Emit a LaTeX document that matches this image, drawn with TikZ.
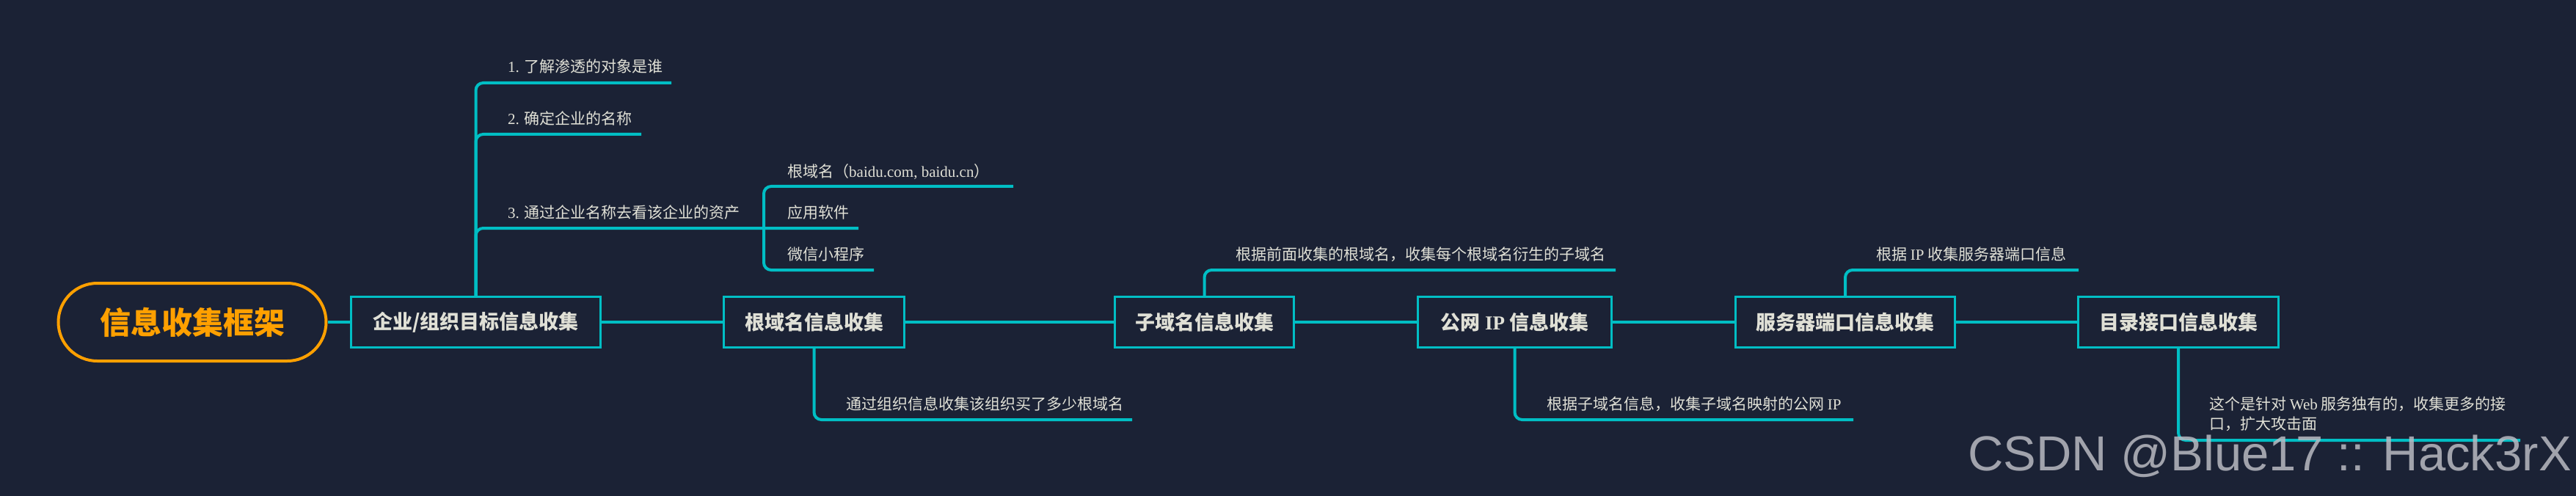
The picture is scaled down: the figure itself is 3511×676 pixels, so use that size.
\documentclass[tikz,border=0pt]{standalone}
\usepackage{fontspec}
\setmainfont{Liberation Serif}
\newfontfamily\cjk{Noto Sans CJK SC}
\newfontfamily\lat{Liberation Serif}
\newfontfamily\wmfont{Liberation Sans}
\definecolor{bgc}{RGB}{27,34,53}
\definecolor{mmteal}{RGB}{0,190,196}
\definecolor{txtc}{RGB}{224,224,214}
\definecolor{orgc}{RGB}{255,160,0}
\definecolor{wmc}{RGB}{185,186,194}
\begin{document}
\begin{tikzpicture}[x=1pt,y=-1pt,
  conn/.style={draw=mmteal, line width=4pt},
  br/.style={conn, rounded corners=10pt},
  rootbox/.style={draw=orgc, line width=4pt, fill=bgc, rounded corners=53pt, minimum width=365pt, minimum height=106pt, inner sep=0pt, text=orgc, font=\cjk\bfseries\fontsize{42}{50}\selectfont},
  box/.style={draw=mmteal, line width=3pt, fill=bgc, minimum height=69pt, inner sep=0pt, text=txtc, font=\cjk\bfseries\fontsize{27}{32}\selectfont},
  lbl/.style={anchor=base west, inner sep=0pt, text=txtc, font=\cjk\fontsize{21}{27}\selectfont},
]
\fill[bgc] (0,0) rectangle (3511,676);
\useasboundingbox (0,0) rectangle (3511,676);

% main nodes
\node[rootbox] (root) at (262,439) {信息收集框架};
\node[box, minimum width=340pt] (b1) at (648.5,439) {企业/组织目标信息收集};
\node[box, minimum width=246pt] (b2) at (1109.5,439) {根域名信息收集};
\node[box, minimum width=244pt] (b3) at (1641.5,439) {子域名信息收集};
\node[box, minimum width=264pt] (b4) at (2064.5,439) {公网 {\lat\bfseries IP} 信息收集};
\node[box, minimum width=299pt] (b5) at (2515,439) {服务器端口信息收集};
\node[box, minimum width=273pt] (b6) at (2969,439) {目录接口信息收集};

% spine
\draw[conn] (root) -- (b1);
\draw[conn] (b1) -- (b2);
\draw[conn] (b2) -- (b3);
\draw[conn] (b3) -- (b4);
\draw[conn] (b4) -- (b5);
\draw[conn] (b5) -- (b6);

% branch end points
\coordinate (e1) at (915,113);
\coordinate (e2) at (874,183);
\coordinate (e3) at (1170,311);
\coordinate (sj) at (1041,311);
\coordinate (ea) at (1381,254);
\coordinate (ec) at (1191,368);
\coordinate (e4) at (1543,572);
\coordinate (e5) at (2202,368);
\coordinate (e6) at (2526,572);
\coordinate (e7) at (2833,368);
\coordinate (e8) at (3435,600);

\draw[br] (b1.north) |- (e1);
\draw[br] (b1.north) |- (e2);
\draw[br] (b1.north) |- (e3);
\draw[br] (sj) |- (ea);
\draw[br] (sj) |- (ec);
\draw[br] (b2.south) |- (e4);
\draw[br] (b3.north) |- (e5);
\draw[br] (b4.south) |- (e6);
\draw[br] (b5.north) |- (e7);
\draw[br] (b6.south) |- (e8);

% labels
\node[lbl] (t1) at (692,99) {{\lat 1. }了解渗透的对象是谁};
\node[lbl] (t2) at (692,170) {{\lat 2. }确定企业的名称};
\node[lbl] (t3) at (692,298) {{\lat 3. }通过企业名称去看该企业的资产};
\node[lbl] (ta) at (1073,242) {根域名（{\lat baidu.com, baidu.cn}）};
\node[lbl] (tb) at (1073,298) {应用软件};
\node[lbl] (tc) at (1073,354) {微信小程序};
\node[lbl] (t4) at (1153,558) {通过组织信息收集该组织买了多少根域名};
\node[lbl] (t5) at (1684,354) {根据前面收集的根域名，收集每个根域名衍生的子域名};
\node[lbl] (t6) at (2108,558) {根据子域名信息，收集子域名映射的公网 {\lat IP}};
\node[lbl] (t7) at (2557,354) {根据 {\lat IP} 收集服务器端口信息};
\node[lbl, align=left] (t8) at (3011,585) {这个是针对 {\lat Web} 服务独有的，收集更多的接\\口，扩大攻击面};

% watermark
\node[anchor=base east, inner sep=0pt, text=wmc, opacity=0.85, font=\wmfont\fontsize{67}{70}\selectfont] (wm) at (3505,641) {CSDN @Blue17 :: Hack3rX};
\end{tikzpicture}
\end{document}
